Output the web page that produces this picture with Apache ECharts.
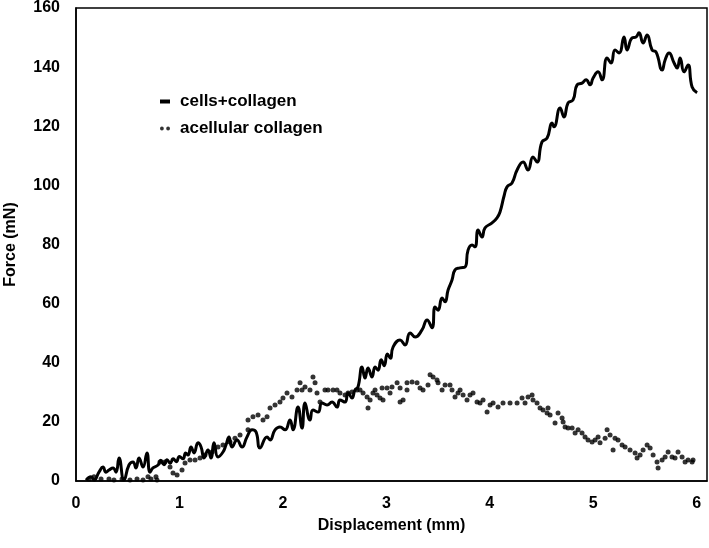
<!DOCTYPE html>
<html>
<head>
<meta charset="utf-8">
<script src="https://cdn.jsdelivr.net/npm/echarts@6/dist/echarts.min.js"></script>
<style>html,body{margin:0;padding:0;background:#fff}#c{width:709px;height:548px}</style>
</head>
<body>
<div id="c"></div>
<script>
const seriesNames = ['cells+collagen', 'acellular collagen'];
const xTicks = [0, 1, 2, 3, 4, 5, 6];
const yTicks = [0, 20, 40, 60, 80, 100, 120, 140, 160];

const cellsX = [0.097,0.145,0.174,0.222,0.261,0.290,0.319,0.358,0.387,0.416,0.464,0.512,0.551,0.580,0.609,0.648,0.686,0.715,0.744,0.793,0.820,0.850,0.880,0.910,0.940,0.970,1.000,1.035,1.060,1.083,1.112,1.141,1.180,1.209,1.238,1.276,1.305,1.334,1.373,1.421,1.450,1.479,1.508,1.557,1.605,1.653,1.702,1.740,1.779,1.847,1.876,1.924,1.972,2.021,2.069,2.098,2.146,2.185,2.214,2.262,2.291,2.340,2.378,2.427,2.475,2.523,2.552,2.601,2.630,2.668,2.697,2.726,2.765,2.794,2.823,2.862,2.891,2.920,2.950,2.980,3.010,3.040,3.065,3.133,3.181,3.230,3.278,3.345,3.394,3.442,3.471,3.500,3.539,3.568,3.597,3.635,3.664,3.713,3.761,3.790,3.829,3.858,3.887,3.925,3.954,4.022,4.070,4.099,4.138,4.167,4.215,4.264,4.322,4.370,4.418,4.457,4.505,4.554,4.602,4.621,4.680,4.718,4.757,4.805,4.844,4.892,4.931,4.970,4.999,5.047,5.086,5.134,5.173,5.211,5.250,5.298,5.327,5.376,5.414,5.443,5.482,5.521,5.569,5.608,5.666,5.695,5.733,5.782,5.811,5.840,5.878,5.917,5.956,6.004];
const cellsY = [0.3,1.4,0.3,3.0,4.7,3.0,3.7,4.4,3.0,7.8,0.3,5.4,6.4,4.4,7.8,4.7,9.5,3.0,4.4,5.4,7.0,5.5,7.2,6.0,7.5,6.5,8.3,7.5,9.5,8.8,11.5,9.5,12.9,11.5,7.8,10.5,7.8,12.9,8.1,9.8,12.2,14.9,11.5,13.9,11.5,14.9,17.3,16.6,11.2,14.9,13.9,17.3,18.3,17.3,20.6,17.3,25.0,17.9,26.4,20.6,24.0,23.3,26.4,25.7,26.7,25.0,27.4,26.7,29.8,28.1,30.8,31.8,38.6,34.8,38.2,35.2,38.6,37.5,41.0,39.0,43.0,41.5,45.3,47.7,46.0,50.1,48.7,51.1,54.5,51.8,58.9,57.8,61.9,60.6,64.6,68.0,71.4,72.1,72.4,78.1,79.8,79.2,84.9,82.5,85.6,87.3,89.0,91.0,96.4,99.5,100.8,105.2,107.9,105.2,109.6,107.9,114.7,116.0,121.1,119.8,126.2,123.1,127.9,128.9,134.0,134.6,135.7,134.0,136.3,138.4,135.7,143.1,141.4,145.8,144.8,150.2,145.8,149.9,150.2,151.6,148.2,150.9,145.8,145.1,139.0,142.4,144.8,141.4,139.7,143.1,138.4,140.7,133.3,131.3];

const acellX = [0.126,0.174,0.242,0.319,0.367,0.445,0.522,0.590,0.648,0.696,0.725,0.773,0.783,0.812,0.860,0.909,0.938,0.977,1.025,1.054,1.102,1.151,1.199,1.247,1.315,1.373,1.421,1.489,1.537,1.586,1.663,1.663,1.711,1.760,1.808,1.847,1.876,1.924,1.972,2.001,2.040,2.088,2.137,2.166,2.185,2.214,2.262,2.291,2.311,2.330,2.359,2.407,2.436,2.485,2.523,2.552,2.601,2.630,2.668,2.717,2.746,2.775,2.814,2.823,2.843,2.871,2.891,2.910,2.939,2.959,2.968,3.007,3.036,3.055,3.104,3.133,3.133,3.162,3.200,3.200,3.249,3.297,3.326,3.355,3.403,3.423,3.452,3.490,3.500,3.539,3.568,3.616,3.635,3.664,3.693,3.713,3.742,3.780,3.809,3.838,3.877,3.906,3.935,3.974,4.003,4.032,4.080,4.128,4.196,4.264,4.312,4.341,4.370,4.409,4.418,4.457,4.486,4.515,4.554,4.563,4.583,4.631,4.660,4.699,4.709,4.728,4.757,4.796,4.825,4.854,4.892,4.921,4.950,4.989,5.018,5.047,5.066,5.115,5.134,5.163,5.192,5.211,5.240,5.279,5.308,5.356,5.405,5.424,5.453,5.482,5.521,5.550,5.579,5.617,5.627,5.666,5.695,5.724,5.762,5.791,5.820,5.859,5.888,5.917,5.956,5.965];
const acellY = [0.7,1.4,0.7,0.7,0.3,0.7,0.3,0.7,0.3,1.4,0.7,1.4,0.3,6.4,6.4,4.7,2.7,2.0,3.7,6.1,7.1,7.1,7.8,8.8,9.8,11.5,12.2,13.2,14.5,15.6,17.3,20.6,21.7,22.3,20.6,21.7,24.7,25.7,26.7,28.1,29.8,28.4,30.8,33.2,30.8,31.8,30.8,35.2,33.2,29.8,26.7,30.8,30.8,30.8,30.8,29.8,29.1,29.8,30.1,30.8,30.8,29.8,28.4,24.7,27.4,29.8,30.8,29.1,28.1,31.5,27.4,31.5,29.8,31.8,33.2,31.5,26.7,27.4,30.8,33.2,33.5,33.2,31.5,30.8,32.5,35.9,35.2,34.2,33.2,30.8,32.5,32.5,30.8,28.4,29.8,30.8,29.1,27.4,29.1,29.8,26.7,26.4,27.4,23.3,25.7,26.4,25.0,26.4,26.4,26.4,28.1,26.4,28.4,29.1,27.4,26.4,24.7,24.0,23.0,24.7,22.3,19.6,23.0,21.3,20.0,18.3,17.9,17.9,16.2,17.3,16.2,14.9,13.9,13.2,13.9,14.9,12.9,14.5,17.3,15.6,10.5,14.5,13.9,12.2,11.5,10.5,9.5,7.8,8.8,10.5,12.2,11.2,8.8,6.4,4.4,7.1,8.1,9.8,8.1,7.8,9.8,8.1,6.4,7.1,6.4,7.1];

const cellsData = cellsX.map((x, i) => [x, cellsY[i]]);
const acellData = acellX.map((x, i) => [x, acellY[i]]);

const FONT = '"Liberation Sans", Arial, sans-serif';
const chart = echarts.init(document.getElementById('c'), null, {renderer: 'canvas'});
chart.setOption({
  animation: false,
  backgroundColor: '#fff',
  grid: {left: 76, right: 2, top: 8, bottom: 67, show: true, borderColor: '#000', borderWidth: 1.5,
         backgroundColor: 'transparent', outerBoundsMode: 'none', containLabel: false},
  legend: {
    orient: 'vertical', left: 155, top: 88, itemGap: 10,
    itemWidth: 10, itemHeight: 4,
    textStyle: {fontFamily: FONT, fontWeight: 'bold', fontSize: 17, color: '#000', lineHeight: 17, padding: [0, 0, 0, 5]},
    data: [
      {name: seriesNames[0], icon: 'rect'},
      {name: seriesNames[1], icon: 'path://M0,2a2,2 0 1,0 4,0a2,2 0 1,0 -4,0M6.5,2a2,2 0 1,0 4,0a2,2 0 1,0 -4,0'}
    ]
  },
  xAxis: {
    type: 'value', min: 0, max: 6.1, interval: 1,
    name: 'Displacement (mm)', nameLocation: 'middle', nameGap: 37,
    nameTextStyle: {fontFamily: FONT, fontWeight: 'bold', fontSize: 16, color: '#000'},
    axisLine: {show: true, lineStyle: {color: '#000', width: 1.5}},
    axisTick: {show: false}, splitLine: {show: false},
    axisLabel: {fontFamily: FONT, fontWeight: 'bold', fontSize: 16, color: '#000', margin: 15,
      formatter: v => (xTicks.indexOf(v) >= 0 ? String(v) : '')}
  },
  yAxis: {
    type: 'value', min: yTicks[0], max: yTicks[yTicks.length - 1], interval: 20,
    name: 'Force (mN)', nameLocation: 'middle', nameGap: 57,
    nameTextStyle: {fontFamily: FONT, fontWeight: 'bold', fontSize: 16, color: '#000'},
    axisLine: {show: true, lineStyle: {color: '#000', width: 1.5}},
    axisTick: {show: false}, splitLine: {show: false},
    axisLabel: {fontFamily: FONT, fontWeight: 'bold', fontSize: 16, color: '#000', margin: 16}
  },
  series: [
    {name: seriesNames[0], type: 'line', data: cellsData, smooth: 0.5, showSymbol: false,
     lineStyle: {color: '#000', width: 3}, itemStyle: {color: '#000'}},
    {name: seriesNames[1], type: 'scatter', data: acellData, symbol: 'circle', symbolSize: 5,
     itemStyle: {color: '#000'}}
  ]
});
</script>
</body>
</html>
